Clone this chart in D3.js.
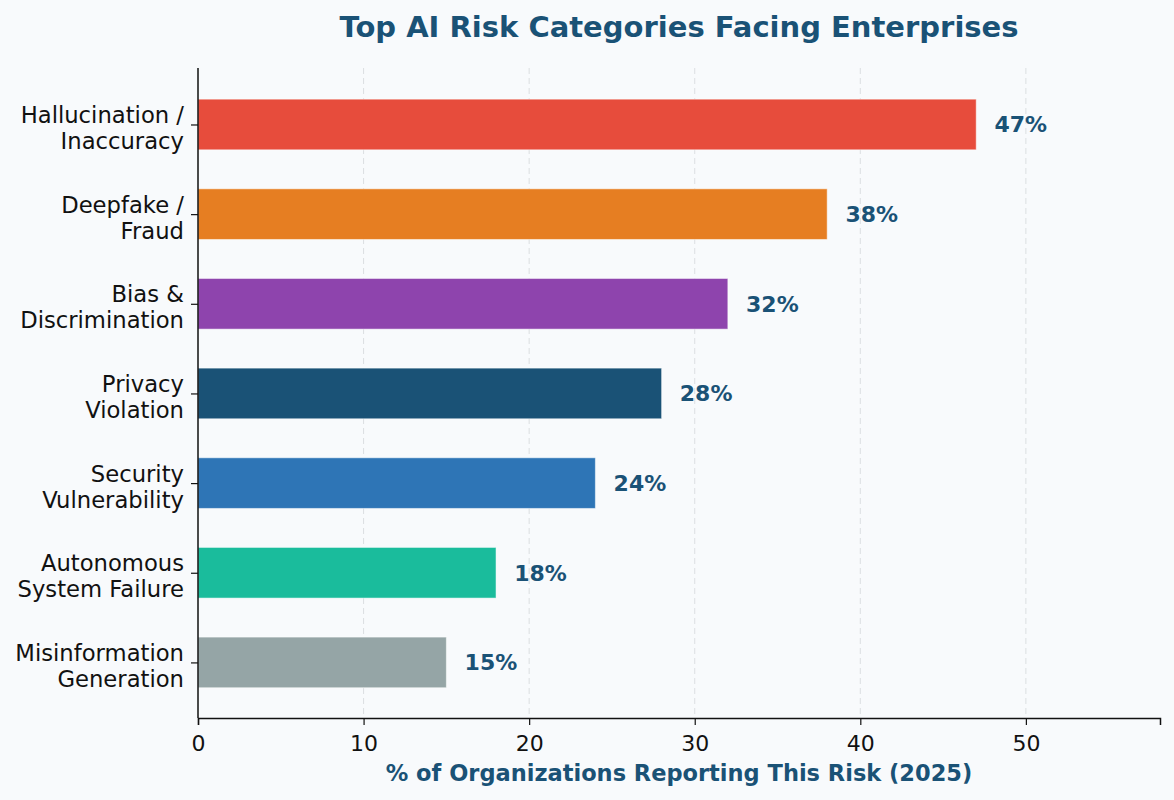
<!DOCTYPE html>
<html>
<head>
<meta charset="utf-8">
<script src="https://cdn.jsdelivr.net/npm/d3@7"></script>
<style>
  body { margin: 0; background: #f8fafc; }
  svg text { font-family: "DejaVu Sans", Verdana, sans-serif; }
</style>
</head>
<body>
<svg id="chart"></svg>
<script>
// categories listed bottom to top, as in the picture
var categories = [
  ["Misinformation", "Generation"],
  ["Autonomous", "System Failure"],
  ["Security", "Vulnerability"],
  ["Privacy", "Violation"],
  ["Bias &", "Discrimination"],
  ["Deepfake /", "Fraud"],
  ["Hallucination /", "Inaccuracy"]
];
var values = [15, 18, 24, 28, 32, 38, 47];
var colors = ["#95a5a6", "#1abc9c", "#2e75b6", "#1a5276", "#8e44ad", "#e67e22", "#e74c3c"];
var xTicks = [0, 10, 20, 30, 40, 50];

var W = 1174, H = 800;
var margin = { top: 68, right: 14, bottom: 82, left: 198 };
var width = W - margin.left - margin.right,
    height = H - margin.top - margin.bottom;
var FONT = "DejaVu Sans";

var svg = d3.select("#chart").attr("width", W).attr("height", H);
svg.append("rect").attr("width", W).attr("height", H).attr("fill", "#f8fafc");

var g = svg.append("g").attr("transform", "translate(" + margin.left + "," + margin.top + ")");

var x = d3.scaleLinear().domain([0, 58.1]).range([0, width]);
// y positions: index 0 at bottom
var y = d3.scaleLinear().domain([-0.62, 6.63]).range([height, 0]);
var barH = y(0) - y(0.565);

// grid
g.selectAll(".grid").data(xTicks.slice(1)).enter().append("line")
  .attr("x1", d => x(d)).attr("x2", d => x(d))
  .attr("y1", 0).attr("y2", height)
  .attr("stroke", "#cfd3d6").attr("stroke-opacity", 0.7)
  .attr("stroke-dasharray", "6,4").attr("stroke-width", 1);

// bars
g.selectAll(".bar").data(values).enter().append("rect")
  .attr("x", x(0))
  .attr("y", (d, i) => y(i) - barH / 2)
  .attr("width", d => x(d) - x(0))
  .attr("height", barH)
  .attr("fill", (d, i) => colors[i])
  .attr("stroke", "#ffffff").attr("stroke-opacity", 0.5).attr("stroke-width", 1);

// value labels
g.selectAll(".val").data(values).enter().append("text")
  .attr("x", d => x(d + 1.1))
  .attr("y", (d, i) => y(i))
  .attr("dy", "0.36em")
  .attr("font-family", FONT)
  .attr("font-size", 22).attr("font-weight", "bold")
  .attr("fill", "#1a5276")
  .text(d => d + "%");

// x axis
var xAxis = g.append("g").attr("transform", "translate(0," + height + ")")
  .call(d3.axisBottom(x).tickValues(xTicks).tickSize(7).tickPadding(10));
xAxis.attr("font-family", FONT);
xAxis.selectAll("text").attr("font-size", 22).attr("fill", "#111");
xAxis.selectAll("line").attr("stroke", "#111").attr("stroke-width", 1.2);
xAxis.select(".domain").attr("stroke", "#111").attr("stroke-width", 1.5);

// y axis
var yAxis = g.append("g")
  .call(d3.axisLeft(y).tickValues(d3.range(categories.length)).tickSize(7).tickFormat(""));
yAxis.attr("font-family", FONT);
yAxis.selectAll("line").attr("stroke", "#111").attr("stroke-width", 1.2);
yAxis.select(".domain").attr("stroke", "#111").attr("stroke-width", 1.5)
  .attr("d", "M0," + height + "V0");

yAxis.selectAll(".tick").append("text")
  .attr("x", -14).attr("text-anchor", "end")
  .attr("font-size", 22.7).attr("fill", "#111")
  .each(function (d) {
    var t = d3.select(this);
    categories[d].forEach(function (line, j) {
      t.append("tspan").attr("x", -14).attr("y", j * 26 - 2).text(line);
    });
  });

// title
svg.append("text")
  .attr("x", margin.left + width / 2).attr("y", 37)
  .attr("text-anchor", "middle")
  .attr("font-family", FONT)
  .attr("font-size", 29).attr("font-weight", "bold")
  .attr("fill", "#1a5276")
  .text("Top AI Risk Categories Facing Enterprises");

// x axis label
svg.append("text")
  .attr("x", margin.left + width / 2).attr("y", 781)
  .attr("text-anchor", "middle")
  .attr("font-family", FONT)
  .attr("font-size", 22.5).attr("font-weight", "bold")
  .attr("fill", "#1a5276")
  .text("% of Organizations Reporting This Risk (2025)");
</script>
</body>
</html>
